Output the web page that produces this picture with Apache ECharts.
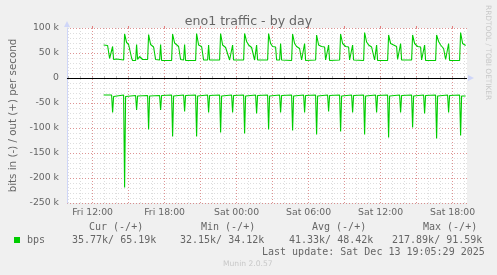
<!DOCTYPE html>
<html><head><meta charset="utf-8">
<script src="https://cdn.jsdelivr.net/npm/echarts@6/dist/echarts.min.js"></script>
<style>html,body{margin:0;padding:0;background:#F0F0F0;}#c{width:497px;height:275px;}</style>
</head><body><div id="c"></div>
<script>
// ---- data (values in k bits/s) ----
const titleText = 'eno1 traffic - by day';
const yAxisName = 'bits in (-) / out (+) per second';
const xTickTimes = ['Fri 12:00','Fri 18:00','Sat 00:00','Sat 06:00','Sat 12:00','Sat 18:00'];
const yTicks = [100, 50, 0, -50, -100, -150, -200, -250];
const outPoints = [
["Fri 12:55",66],["Fri 13:15",65],["Fri 13:25",39],["Fri 13:35",37],["Fri 13:40",63],["Fri 13:45",37],["Fri 14:00",38],["Fri 14:35",36],
["Fri 14:40",88],["Fri 14:50",71],["Fri 15:00",67],["Fri 15:10",66],["Fri 15:15",40],["Fri 15:20",35],["Fri 15:35",35],["Fri 15:40",67],["Fri 15:45",37],["Fri 15:55",43],["Fri 16:00",40],["Fri 16:05",43],["Fri 16:10",37],["Fri 16:35",37],
["Fri 16:40",87],["Fri 16:50",67],["Fri 17:05",62],["Fri 17:15",37],["Fri 17:35",36],["Fri 17:40",67],["Fri 17:45",35],["Fri 18:35",35],
["Fri 18:40",88],["Fri 18:50",70],["Fri 19:00",67],["Fri 19:10",63],["Fri 19:20",37],["Fri 19:35",36],["Fri 19:40",67],["Fri 19:45",35],["Fri 20:35",35],
["Fri 20:40",89],["Fri 20:50",66],["Fri 21:05",63],["Fri 21:15",36],["Fri 21:35",36],["Fri 21:40",66],["Fri 21:45",36],["Fri 22:35",36],
["Fri 22:40",89],["Fri 22:50",66],["Fri 23:05",61],["Fri 23:15",63],["Fri 23:25",36],["Fri 23:35",36],["Fri 23:40",66],["Fri 23:45",36],["Sat 00:35",36],
["Sat 00:40",89],["Sat 00:50",73],["Sat 01:00",66],["Sat 01:15",61],["Sat 01:30",36],["Sat 01:35",36],["Sat 01:40",66],["Sat 01:45",36],["Sat 02:35",36],
["Sat 02:40",89],["Sat 02:50",69],["Sat 03:00",63],["Sat 03:15",62],["Sat 03:20",36],["Sat 03:35",36],["Sat 03:40",69],["Sat 03:45",36],["Sat 04:35",35],
["Sat 04:40",88],["Sat 04:50",69],["Sat 05:00",63],["Sat 05:15",59],["Sat 05:25",36],["Sat 05:35",35],["Sat 05:40",69],["Sat 05:45",35],["Sat 06:35",36],
["Sat 06:40",86],["Sat 06:50",66],["Sat 07:05",63],["Sat 07:20",62],["Sat 07:25",36],["Sat 07:35",36],["Sat 07:40",66],["Sat 07:45",35],["Sat 08:35",36],
["Sat 08:40",88],["Sat 08:50",69],["Sat 09:05",63],["Sat 09:20",62],["Sat 09:25",36],["Sat 09:35",36],["Sat 09:40",66],["Sat 09:45",36],["Sat 10:35",35],
["Sat 10:40",91],["Sat 10:50",72],["Sat 11:00",66],["Sat 11:15",62],["Sat 11:30",36],["Sat 11:35",36],["Sat 11:40",66],["Sat 11:45",35],["Sat 12:35",35],
["Sat 12:40",86],["Sat 12:50",69],["Sat 13:05",66],["Sat 13:20",63],["Sat 13:25",37],["Sat 13:35",36],["Sat 13:40",69],["Sat 13:45",36],["Sat 13:55",38],["Sat 14:10",36],["Sat 14:35",36],
["Sat 14:40",86],["Sat 14:50",69],["Sat 15:05",63],["Sat 15:20",62],["Sat 15:25",36],["Sat 15:35",36],["Sat 15:40",66],["Sat 15:45",35],["Sat 16:35",35],
["Sat 16:40",86],["Sat 16:50",73],["Sat 17:00",66],["Sat 17:15",59],["Sat 17:25",37],["Sat 17:35",36],["Sat 17:40",69],["Sat 17:45",35],["Sat 18:35",35],
["Sat 18:40",91],["Sat 18:50",69],["Sat 19:05",65]
];
const inPoints = [
["Fri 12:55",-34],["Fri 13:35",-34],["Fri 13:40",-69],["Fri 13:45",-37],["Fri 13:50",-34],["Fri 14:35",-34],
["Fri 14:40",-219],["Fri 14:45",-37],["Fri 14:55",-33],["Fri 15:35",-35],["Fri 15:40",-64],["Fri 15:45",-36],["Fri 15:55",-33],["Fri 16:35",-35],
["Fri 16:40",-103],["Fri 16:45",-36],["Fri 16:55",-33],["Fri 17:35",-35],["Fri 17:40",-64],["Fri 17:45",-35],["Fri 18:35",-34],
["Fri 18:40",-117],["Fri 18:45",-36],["Fri 18:55",-33],["Fri 19:35",-34],["Fri 19:40",-67],["Fri 19:45",-35],["Fri 20:35",-34],
["Fri 20:40",-117],["Fri 20:45",-36],["Fri 20:55",-33],["Fri 21:35",-34],["Fri 21:40",-69],["Fri 21:45",-35],["Fri 22:35",-34],
["Fri 22:40",-109],["Fri 22:45",-36],["Fri 22:55",-33],["Fri 23:35",-34],["Fri 23:40",-69],["Fri 23:45",-35],["Sat 00:35",-34],
["Sat 00:40",-111],["Sat 00:45",-36],["Sat 00:55",-33],["Sat 01:35",-34],["Sat 01:40",-71],["Sat 01:45",-35],["Sat 02:35",-34],
["Sat 02:40",-103],["Sat 02:45",-36],["Sat 02:55",-33],["Sat 03:35",-34],["Sat 03:40",-69],["Sat 03:45",-35],["Sat 04:35",-34],
["Sat 04:40",-105],["Sat 04:45",-36],["Sat 04:55",-33],["Sat 05:35",-34],["Sat 05:40",-69],["Sat 05:45",-35],["Sat 06:35",-34],
["Sat 06:40",-113],["Sat 06:45",-36],["Sat 06:55",-33],["Sat 07:35",-34],["Sat 07:40",-67],["Sat 07:45",-35],["Sat 08:35",-34],
["Sat 08:40",-107],["Sat 08:45",-36],["Sat 08:55",-33],["Sat 09:35",-34],["Sat 09:40",-69],["Sat 09:45",-35],["Sat 10:35",-34],
["Sat 10:40",-113],["Sat 10:45",-36],["Sat 10:55",-33],["Sat 11:35",-34],["Sat 11:40",-69],["Sat 11:45",-35],["Sat 12:35",-34],
["Sat 12:40",-119],["Sat 12:45",-36],["Sat 12:55",-33],["Sat 13:35",-34],["Sat 13:40",-69],["Sat 13:45",-35],["Sat 14:35",-34],
["Sat 14:40",-99],["Sat 14:45",-36],["Sat 14:55",-33],["Sat 15:35",-34],["Sat 15:40",-71],["Sat 15:45",-35],["Sat 16:35",-34],
["Sat 16:40",-121],["Sat 16:45",-36],["Sat 16:55",-33],["Sat 17:35",-34],["Sat 17:40",-69],["Sat 17:45",-35],["Sat 18:35",-34],
["Sat 18:40",-115],["Sat 18:45",-36],["Sat 18:55",-33],["Sat 19:05",-36]
];
const legendHeaders = ['Cur (-/+)','Min (-/+)','Avg (-/+)','Max (-/+)'];
const legendValues = ['35.77k/ 65.19k','32.15k/ 34.12k','41.33k/ 48.42k','217.89k/ 91.59k'];
const seriesName = 'bps';
const lastUpdate = 'Last update: Sat Dec 13 19:05:29 2025';
const footer = 'Munin 2.0.57';
const sideText = 'RRDTOOL / TOBI OETIKER';
const xStart = 'Fri 09:52', xEnd = 'Sat 19:12';

// ---- helpers ----
function tm(s){const p=s.split(' ');const hm=p[1].split(':').map(Number);return (p[0]==='Sat'?1440:0)+hm[0]*60+hm[1];}
const xMin = tm(xStart), xMax = tm(xEnd);
const labelVals = xTickTimes.map(tm);
const labelMap = {}; xTickTimes.forEach(s=>labelMap[tm(s)]=s);
const hourVals=[], threeHourVals=[];
for(let t=Math.ceil(xMin/60)*60;t<xMax;t+=60){hourVals.push(t); if(t%180===0) threeHourVals.push(t);}
const GREEN='#00CC00', FONT='#666666', AXISC='#CFD6F8';
const SANS='"DejaVu Sans", Verdana, sans-serif', MONO='"DejaVu Sans Mono", monospace';
const GRAYGRID='rgba(150,150,150,0.32)', REDGRID='rgba(222,48,48,0.42)';

const chart = echarts.init(document.getElementById('c'), null, {renderer:'canvas'});
const baseX = {type:'value', min:xMin, max:xMax, gridIndex:0};
const baseY = {type:'value', min:-250, max:100, gridIndex:0};
const option = {
  backgroundColor:'#F0F0F0',
  animation:false,
  title:{text:titleText,left:'center',top:10,textStyle:{fontFamily:SANS,fontSize:12.6,fontWeight:'normal',color:FONT}},
  grid:{left:67,top:28,width:400,height:175,show:true,backgroundColor:'#FFFFFF',borderWidth:0},
  xAxis:[
    Object.assign({},baseX,{z:3, axisLine:{show:true,lineStyle:{color:AXISC,width:1},symbol:['none','triangle'],symbolSize:[6,6],symbolOffset:[0,4]},
      axisTick:{show:false}, splitLine:{show:false},
      axisLabel:{customValues:labelVals,formatter:v=>labelMap[v]||'',margin:5,color:FONT,fontFamily:SANS,fontSize:9.3,hideOverlap:false}}),
    Object.assign({},baseX,{z:0, axisLine:{show:false}, axisLabel:{show:false},
      axisTick:{show:true,customValues:hourVals,length:2,inside:false,lineStyle:{color:'#BBBBBB'}},
      splitLine:{show:true,lineStyle:{color:GRAYGRID,type:[1,2],width:1}}}),
    Object.assign({},baseX,{z:1, axisLine:{show:false}, axisLabel:{show:false},
      axisTick:{show:true,customValues:threeHourVals,length:2,lineStyle:{color:'rgba(222,48,48,0.6)'}},
      splitLine:{show:true,lineStyle:{color:REDGRID,type:[1,2],width:1}}})
  ],
  yAxis:[
    Object.assign({},baseY,{z:3, interval:50, name:yAxisName, nameLocation:'middle', nameGap:49,
      nameTextStyle:{fontFamily:SANS,fontSize:10.3,color:FONT},
      axisLine:{show:true,lineStyle:{color:AXISC,width:1},symbol:['none','triangle'],symbolSize:[6,6],symbolOffset:[0,4]},
      axisTick:{show:false},
      axisLabel:{margin:8,color:FONT,fontFamily:SANS,fontSize:9.3,formatter:v=>v===0?'0':(v+' k')},
      splitLine:{show:true,lineStyle:{color:REDGRID,type:[1,2],width:1}}}),
    Object.assign({},baseY,{z:0, interval:10, axisLine:{show:false}, axisTick:{show:false}, axisLabel:{show:false},
      splitLine:{show:true,lineStyle:{color:GRAYGRID,type:[1,2],width:1}}})
  ],
  series:[
    {name:'out',type:'line',xAxisIndex:0,yAxisIndex:0,symbol:'none',z:4,
     lineStyle:{color:GREEN,width:1.1},data:outPoints.map(p=>[tm(p[0]),p[1]]),
     markLine:{silent:true,symbol:['none','none'],label:{show:false},lineStyle:{color:'#000000',width:1,type:'solid'},data:[{yAxis:0}]}},
    {name:'in',type:'line',xAxisIndex:0,yAxisIndex:0,symbol:'none',z:4,
     lineStyle:{color:GREEN,width:1.1},data:inPoints.map(p=>[tm(p[0]),p[1]])}
  ],
  graphic:[
    {type:'text',x:488,y:5,rotation:-Math.PI/2,style:{text:sideText,fill:'#C8C8C8',font:'7.4px '+SANS,textAlign:'left',textVerticalAlign:'middle'}},
    {type:'text',x:89,y:227,style:{text:legendHeaders[0],fill:FONT,font:'10px '+MONO,textVerticalAlign:'middle'}},
    {type:'text',x:201,y:227,style:{text:legendHeaders[1],fill:FONT,font:'10px '+MONO,textVerticalAlign:'middle'}},
    {type:'text',x:312,y:227,style:{text:legendHeaders[2],fill:FONT,font:'10px '+MONO,textVerticalAlign:'middle'}},
    {type:'text',x:423,y:227,style:{text:legendHeaders[3],fill:FONT,font:'10px '+MONO,textVerticalAlign:'middle'}},
    {type:'rect',shape:{x:14,y:237,width:6,height:6},style:{fill:GREEN}},
    {type:'text',x:27,y:240,style:{text:seriesName,fill:FONT,font:'10px '+MONO,textVerticalAlign:'middle'}},
    {type:'text',x:72,y:240,style:{text:legendValues[0],fill:FONT,font:'10px '+MONO,textVerticalAlign:'middle'}},
    {type:'text',x:180,y:240,style:{text:legendValues[1],fill:FONT,font:'10px '+MONO,textVerticalAlign:'middle'}},
    {type:'text',x:289,y:240,style:{text:legendValues[2],fill:FONT,font:'10px '+MONO,textVerticalAlign:'middle'}},
    {type:'text',x:392,y:240,style:{text:legendValues[3],fill:FONT,font:'10px '+MONO,textVerticalAlign:'middle'}},
    {type:'text',x:262,y:252,style:{text:lastUpdate,fill:FONT,font:'10px '+MONO,textVerticalAlign:'middle'}},
    {type:'text',x:223,y:264,style:{text:footer,fill:'#C8C8C8',font:'7.6px '+SANS,textVerticalAlign:'middle'}}
  ]
};
chart.setOption(option);
</script></body></html>
